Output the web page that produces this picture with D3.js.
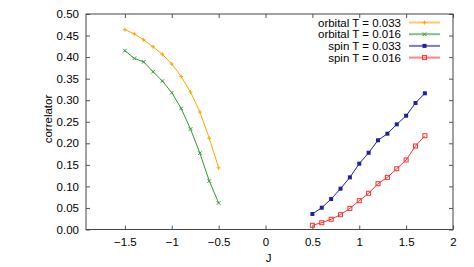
<!DOCTYPE html>
<html>
<head>
<meta charset="utf-8">
<script src="https://cdn.jsdelivr.net/npm/d3@7"></script>
<style>
  body { margin: 0; background: #fff; }
  text { font-family: "Liberation Sans", Arial, sans-serif; font-size: 11.5px; fill: #000; }
</style>
</head>
<body>
<div id="chart"></div>
<script>
// data
var jOrbital = [-1.5, -1.4, -1.3, -1.2, -1.1, -1.0, -0.9, -0.8, -0.7, -0.6, -0.5];
var orbitalT033 = [0.4636, 0.454, 0.440, 0.424, 0.4065, 0.384, 0.355, 0.319, 0.2726, 0.2116, 0.143];
var orbitalT016 = [0.415, 0.397, 0.389, 0.366, 0.3445, 0.3174, 0.281, 0.233, 0.177, 0.1125, 0.0615];

var jSpin = [0.5, 0.6, 0.7, 0.8, 0.9, 1.0, 1.1, 1.2, 1.3, 1.4, 1.5, 1.6, 1.7];
var spinT033 = [0.036, 0.0506, 0.0707, 0.0947, 0.121, 0.1527, 0.178, 0.207, 0.2223, 0.244, 0.264, 0.2935, 0.316];
var spinT016 = [0.0097, 0.0158, 0.0237, 0.0343, 0.049, 0.0668, 0.084, 0.1063, 0.121, 0.141, 0.1613, 0.1937, 0.2176];

var xTicks = [-1.5, -1, -0.5, 0, 0.5, 1, 1.5, 2];
var yTicks = [0, 0.05, 0.1, 0.15, 0.2, 0.25, 0.3, 0.35, 0.4, 0.45, 0.5];

var seriesNames = ["orbital T = 0.033", "orbital T = 0.016", "spin T = 0.033", "spin T = 0.016"];

var svgWidth = 474;
var svgHeight = 267;
var margin = {top: 14, right: 21, bottom: 37.5, left: 86};
var chartWidth = svgWidth - margin.left - margin.right;
var chartHeight = svgHeight - margin.top - margin.bottom;

var svg = d3.select("#chart")
  .append("svg")
  .attr("width", svgWidth)
  .attr("height", svgHeight);

var g = svg.append("g")
  .attr("transform", `translate(${margin.left},${margin.top})`);

var x = d3.scaleLinear().domain([-1.915, 2]).range([0, chartWidth]);
var y = d3.scaleLinear().domain([0, 0.5]).range([chartHeight, 0]);

// axes, ticks pointing inward, mirrored on top/right
var tickCol = "#555";
g.append("g").attr("transform", `translate(0,${chartHeight})`)
  .call(d3.axisBottom(x).tickValues(xTicks).tickSize(-4).tickPadding(8)
    .tickFormat(function(d) { return d3.format("")(d).replace("-", "\u2212"); }))
  .call(function(a) { a.select(".domain").remove(); a.selectAll("line").attr("stroke", tickCol); });

g.append("g")
  .call(d3.axisLeft(y).tickValues(yTicks).tickSize(-4).tickPadding(7).tickFormat(d3.format(".2f")))
  .call(function(a) { a.select(".domain").remove(); a.selectAll("line").attr("stroke", tickCol); });

g.append("g")
  .call(d3.axisTop(x).tickValues(xTicks).tickSize(-4).tickFormat(""))
  .call(function(a) { a.select(".domain").remove(); a.selectAll("line").attr("stroke", tickCol); });

g.append("g").attr("transform", `translate(${chartWidth},0)`)
  .call(d3.axisRight(y).tickValues(yTicks).tickSize(-4).tickFormat(""))
  .call(function(a) { a.select(".domain").remove(); a.selectAll("line").attr("stroke", tickCol); });

g.selectAll(".tick text").style("font-size", "11.5px").style("font-family", "Liberation Sans, Arial, sans-serif").attr("fill", "#000");

// frame
g.append("rect")
  .attr("width", chartWidth)
  .attr("height", chartHeight)
  .attr("fill", "none")
  .attr("stroke", "#444")
  .attr("stroke-width", 1);

var series = [
  {name: seriesNames[0], xs: jOrbital, ys: orbitalT033, color: "#ffa500", marker: "plus"},
  {name: seriesNames[1], xs: jOrbital, ys: orbitalT016, color: "#2f9a2f", marker: "cross"},
  {name: seriesNames[2], xs: jSpin, ys: spinT033, color: "#1f1f9f", marker: "fsquare"},
  {name: seriesNames[3], xs: jSpin, ys: spinT016, color: "#ff3030", marker: "osquare"}
];

function drawMarker(sel, type, color) {
  if (type == "plus") {
    sel.append("path").attr("d", "M-2,0H2M0,-2V2").attr("stroke", color).attr("stroke-width", 1);
  } else if (type == "cross") {
    sel.append("path").attr("d", "M-1.8,-1.8L1.8,1.8M-1.8,1.8L1.8,-1.8").attr("stroke", color).attr("stroke-width", 1);
  } else if (type == "fsquare") {
    sel.append("rect").attr("x", -2).attr("y", -2).attr("width", 4).attr("height", 4).attr("fill", color);
  } else {
    sel.append("rect").attr("x", -2).attr("y", -2).attr("width", 4).attr("height", 4)
      .attr("fill", "none").attr("stroke", color).attr("stroke-width", 1);
  }
}

var line = d3.line().x(function(d) { return x(d[0]); }).y(function(d) { return y(d[1]); });

series.forEach(function(s) {
  var pts = s.xs.map(function(v, i) { return [v, s.ys[i]]; });
  g.append("path")
    .datum(pts)
    .attr("d", line)
    .attr("fill", "none")
    .attr("stroke", s.color)
    .attr("stroke-width", 1);
  g.selectAll(null)
    .data(pts)
    .enter()
    .append("g")
    .attr("transform", function(d) { return `translate(${x(d[0])},${y(d[1])})`; })
    .each(function() { drawMarker(d3.select(this), s.marker, s.color); });
});

// legend
var legend = svg.append("g");
series.forEach(function(s, i) {
  var ly = 22.5 + i * 11.7;
  legend.append("text")
    .attr("x", 401)
    .attr("y", ly)
    .attr("dy", "0.35em")
    .attr("text-anchor", "end")
    .text(s.name);
  legend.append("line")
    .attr("x1", 409).attr("x2", 440)
    .attr("y1", ly).attr("y2", ly)
    .attr("stroke", s.color)
    .attr("stroke-opacity", 0.6)
    .attr("stroke-width", 2);
  var m = legend.append("g").attr("transform", `translate(424.5,${ly})`);
  drawMarker(m, s.marker, s.color);
});

// axis labels
svg.append("text")
  .attr("x", margin.left + x(0) + 3)
  .attr("y", 262)
  .attr("text-anchor", "middle")
  .text("J");

svg.append("text")
  .attr("transform", `translate(52,119) rotate(-90)`)
  .attr("text-anchor", "middle")
  .text("correlator");
</script>
</body>
</html>
